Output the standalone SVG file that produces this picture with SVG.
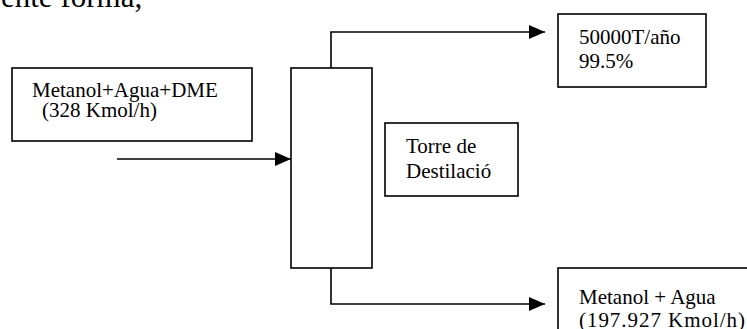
<svg xmlns="http://www.w3.org/2000/svg" width="747" height="329" viewBox="0 0 747 329">
<style>
.box{fill:#fff;stroke:#000;stroke-width:1.6}
.t{font-family:"Liberation Serif","Times New Roman",serif;font-size:21px;fill:#000}
.c{fill:none;stroke:#000;stroke-width:1.6}
</style>
<defs>
<marker id="ah" markerUnits="userSpaceOnUse" markerWidth="16" markerHeight="14" refX="16" refY="7" orient="auto">
<path d="M0,0 L16,7 L0,14 Z" fill="#000"/>
</marker>
</defs>
<rect width="747" height="329" fill="#fff"/>
<text x="1" y="7" font-family="Liberation Serif, serif" font-size="31" fill="#000">ente forma,</text>
<g id="feed">
<rect class="box" x="12" y="68" width="240" height="73"/>
<text class="t" x="32" y="97">Metanol+Agua+DME</text>
<text class="t" x="42" y="117">(328 Kmol/h)</text>
</g>
<g id="column">
<rect class="box" x="291" y="68" width="81" height="200"/>
</g>
<g id="label">
<rect class="box" x="385" y="123" width="133" height="73"/>
<text class="t" x="406" y="153">Torre de</text>
<text class="t" x="406" y="178">Destilació</text>
</g>
<g id="top">
<rect class="box" x="558" y="14" width="148" height="73"/>
<text class="t" x="579" y="44">50000T/año</text>
<text class="t" x="579" y="68">99.5%</text>
</g>
<g id="bottom">
<rect class="box" x="558" y="268" width="200" height="80"/>
<text class="t" x="579" y="304">Metanol + Agua</text>
<text class="t" x="579" y="327" textLength="166" lengthAdjust="spacing">(197.927 Kmol/h)</text>
</g>
<g id="connectors">
<path class="c" d="M117,159 H291" marker-end="url(#ah)"/>
<path class="c" d="M331,68 V32 H545" marker-end="url(#ah)"/>
<path class="c" d="M331,268 V304 H545" marker-end="url(#ah)"/>
</g>
</svg>
